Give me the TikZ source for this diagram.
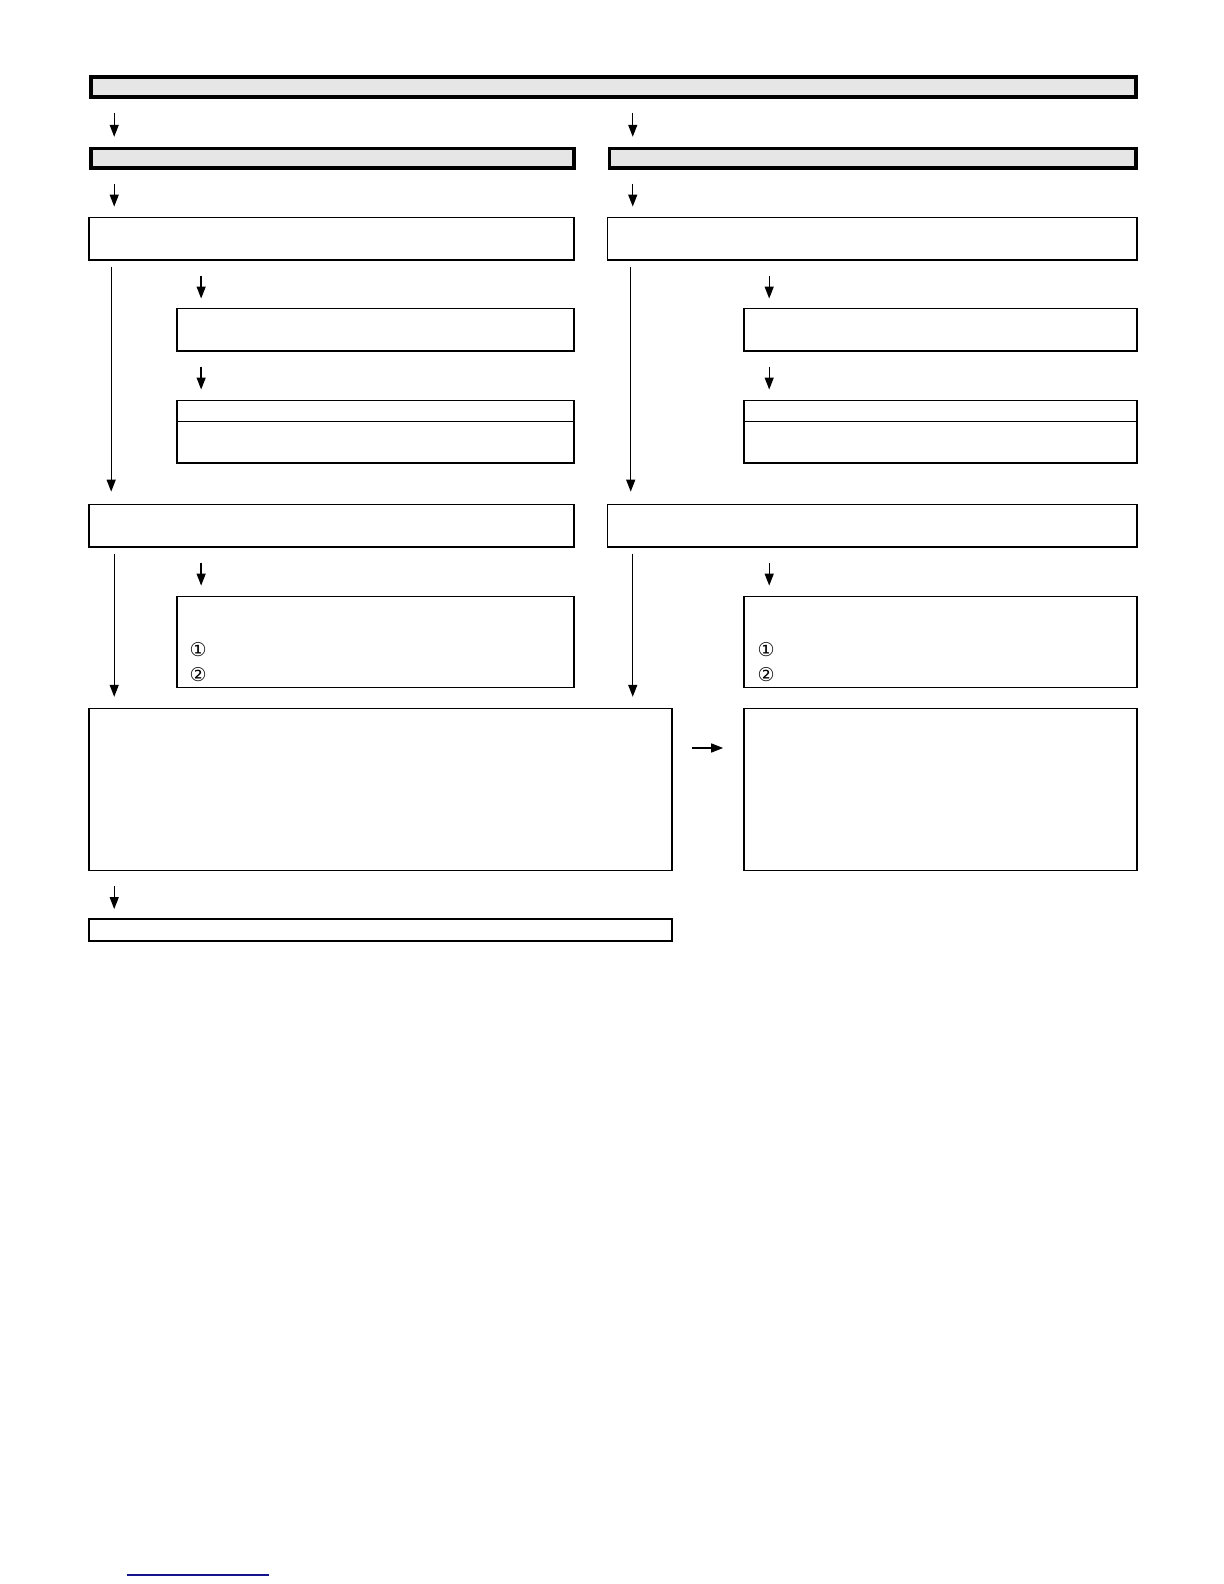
\documentclass[tikz,border=0pt]{standalone}
\usepackage{fontspec}
\newfontfamily\symfont{DejaVu Sans}
\usetikzlibrary{fit,arrows.meta}
\definecolor{boxgray}{RGB}{230,230,230}
\definecolor{navyline}{RGB}{20,20,140}
\tikzset{
  thickbox/.style={draw, line width=1.8pt, fill=boxgray, inner sep=0pt},
  thinbox/.style={draw, line width=0.75pt, inner sep=0pt},
  arr/.style={line width=0.65pt, -{Triangle[length=6pt,width=4.5pt]}},
  circnum/.style={font=\symfont\fontsize{9.5}{11}\selectfont, inner sep=0pt}
}
\begin{document}
\begin{tikzpicture}[x=0.5054pt,y=-0.5054pt]
\useasboundingbox (0,0) rectangle (1210.9,1567.1);
% columns for arrows
\coordinate (xa) at (113,0);
\coordinate (xb) at (626,0);
\coordinate (xla) at (110,0);
\coordinate (xlb) at (624,0);
\coordinate (xc) at (199,0);
\coordinate (xd) at (761,0);
% header boxes
\node[thickbox, fit={(90,76)(1124,96)}] (top) {};
\node[thickbox, fit={(90,147)(568,166)}] (hl) {};
\node[thickbox, fit={(603,147)(1124,166)}] (hr) {};
% first boxes
\node[thinbox, fit={(88,215)(568,257)}] (al) {};
\node[thinbox, fit={(601,215)(1125,257)}] (ar) {};
\node[thinbox, fit={(175,305)(568,347)}] (bl) {};
\node[thinbox, fit={(736,305)(1125,347)}] (br) {};
\node[thinbox, fit={(175,396)(568,458)}] (cl) {};
\node[thinbox, fit={(736,396)(1125,458)}] (cr) {};
\draw[line width=0.75pt] (cl.west |- 0,417) -- (cl.east |- 0,417);
\draw[line width=0.75pt] (cr.west |- 0,417) -- (cr.east |- 0,417);
\node[thinbox, fit={(88,499)(568,541)}] (dl) {};
\node[thinbox, fit={(601,499)(1125,541)}] (dr) {};
\node[thinbox, fit={(175,590)(568,680)}] (el) {};
\node[thinbox, fit={(736,590)(1125,680)}] (er) {};
\node[circnum] (el1) at (196,643) {①};
\node[circnum] (el2) at (196,667) {②};
\node[circnum] (er1) at (758,643) {①};
\node[circnum] (er2) at (758,667) {②};
\node[thinbox, fit={(88,701)(665,861)}] (fl) {};
\node[thinbox, fit={(736,701)(1125,861)}] (gr) {};
\node[thinbox, fit={(88,909)(665,931)}] (hb) {};
% arrows
\draw[arr] ([yshift=-7pt]top.south -| xa) -- ([yshift=5pt]hl.north -| xa);
\draw[arr] ([yshift=-7pt]top.south -| xb) -- ([yshift=5pt]hr.north -| xb);
\draw[arr] ([yshift=-7pt]hl.south -| xa) -- ([yshift=5pt]al.north -| xa);
\draw[arr] ([yshift=-7pt]hr.south -| xb) -- ([yshift=5pt]ar.north -| xb);
\draw[arr] ([yshift=-3pt]al.south -| xla) -- ([yshift=6pt]dl.north -| xla);
\draw[arr] ([yshift=-3pt]ar.south -| xlb) -- ([yshift=6pt]dr.north -| xlb);
\draw[arr] ([yshift=-7.5pt]al.south -| xc) -- ([yshift=4.5pt]bl.north -| xc);
\draw[arr] ([yshift=-7.5pt]ar.south -| xd) -- ([yshift=4.5pt]br.north -| xd);
\draw[arr] ([yshift=-7.5pt]bl.south -| xc) -- ([yshift=5pt]cl.north -| xc);
\draw[arr] ([yshift=-7.5pt]br.south -| xd) -- ([yshift=5pt]cr.north -| xd);
\draw[arr] ([yshift=-3pt]dl.south -| xa) -- ([yshift=5.5pt]fl.north -| xa);
\draw[arr] ([yshift=-3pt]dr.south -| xb) -- ([yshift=5.5pt]fl.north -| xb);
\draw[arr] ([yshift=-7.5pt]dl.south -| xc) -- ([yshift=5pt]el.north -| xc);
\draw[arr] ([yshift=-7.5pt]dr.south -| xd) -- ([yshift=5pt]er.north -| xd);
\draw[arr] ([xshift=9.5pt]fl.east |- 0,740) -- ([xshift=-10pt]gr.west |- 0,740);
\draw[arr] ([yshift=-7.5pt]fl.south -| xa) -- ([yshift=4.5pt]hb.north -| xa);
% bottom line
\draw[navyline, line width=1pt] (125.6,1558) -- (266,1558);
\end{tikzpicture}
\end{document}
